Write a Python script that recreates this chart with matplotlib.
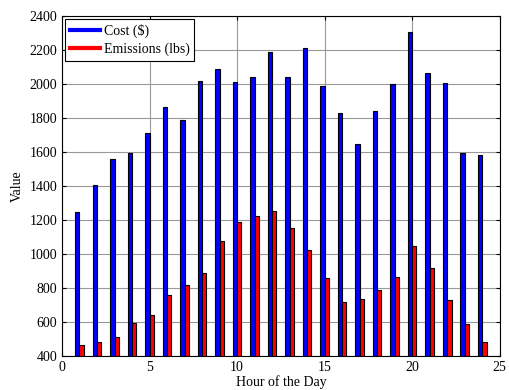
import matplotlib
matplotlib.use("Agg")
import matplotlib.pyplot as plt
import numpy as np
from matplotlib.lines import Line2D

hours = list(range(1, 25))
cost = [1245, 1406, 1557, 1592, 1712, 1863, 1786, 2016, 2086, 2012, 2039, 2190,
        2039, 2212, 1986, 1827, 1645, 1839, 1998, 2304, 2063, 2004, 1592, 1582]
emissions = [465, 480, 512, 592, 639, 757, 816, 886, 1075, 1186, 1222, 1253,
             1153, 1024, 859, 716, 733, 786, 863, 1045, 916, 729, 586, 480]

plt.rcParams['font.family'] = ['Liberation Serif', 'DejaVu Serif']
fig = plt.figure(figsize=(5.1, 3.9), dpi=100)
ax = fig.add_axes([0.1216, 0.0872, 0.8584, 0.8718])

x = np.array(hours)
w = 0.245
ax.bar(x - 0.125, cost, width=w, bottom=0, color='#0000ff', edgecolor='black', linewidth=0.8, zorder=3)
ax.bar(x + 0.12, emissions, width=w, bottom=0, color='#ff0000', edgecolor='black', linewidth=0.8, zorder=3)

ax.set_xlim(0, 25)
ax.set_ylim(400, 2400)
ax.set_xticks([0, 5, 10, 15, 20, 25])
ax.set_yticks(range(400, 2401, 200))
ax.grid(True, color='#999999', linewidth=0.8, zorder=0)
ax.tick_params(direction='in', top=True, right=True, labelsize=10, length=3, width=0.8)
for s in ax.spines.values():
    s.set_linewidth(0.8)
ax.set_xlabel('Hour of the Day', fontsize=10, labelpad=1)
ax.set_ylabel('Value', fontsize=10, labelpad=4)

handles = [Line2D([], [], color='#0000ff', linewidth=3),
           Line2D([], [], color='#ff0000', linewidth=3)]
leg = ax.legend(handles, ['Cost ($)', 'Emissions (lbs)'], loc='upper left', fontsize=10,
                fancybox=False, edgecolor='black', framealpha=1, borderaxespad=0.2,
                handlelength=2.2, labelspacing=0.35, borderpad=0.35, handletextpad=0.25)
leg.get_frame().set_linewidth(0.8)

fig.savefig('out.png', dpi=100)
